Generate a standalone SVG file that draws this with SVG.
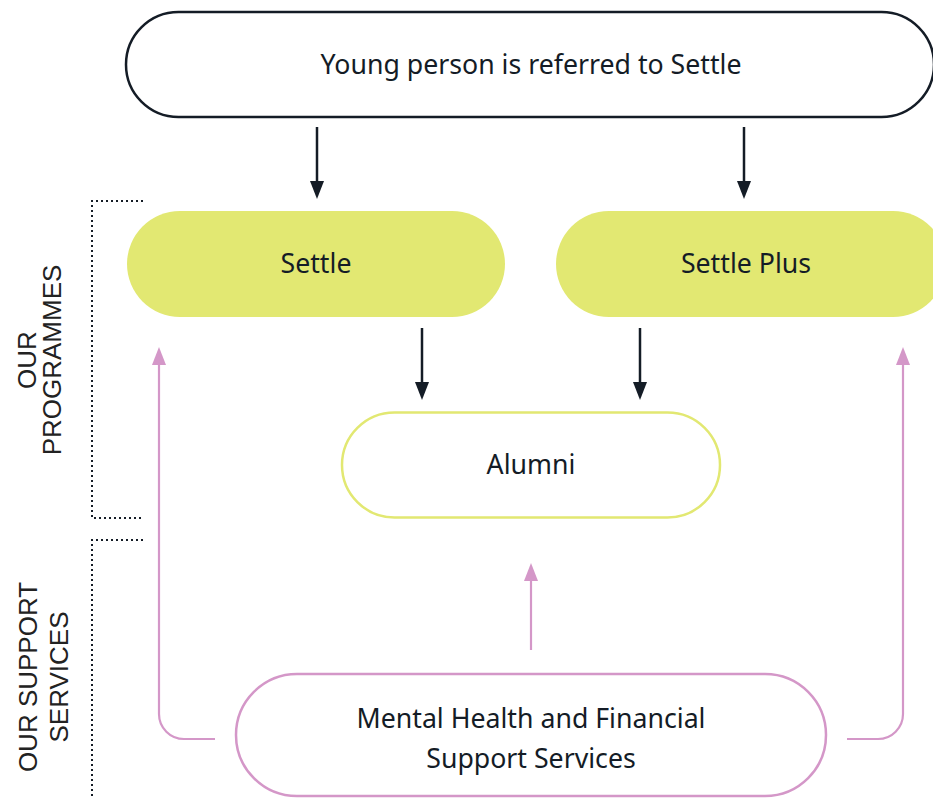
<svg xmlns="http://www.w3.org/2000/svg" width="933" height="798" viewBox="0 0 933 798">
  <defs>
    <marker id="ahDark" markerWidth="18" markerHeight="14" refX="0" refY="7" orient="auto" markerUnits="userSpaceOnUse" viewBox="0 0 18 14">
      <path d="M0,0 L18,7 L0,14 Z" fill="#141c26"/>
    </marker>
    <marker id="ahPink" markerWidth="18" markerHeight="14" refX="0" refY="7" orient="auto" markerUnits="userSpaceOnUse" viewBox="0 0 18 14">
      <path d="M0,0 L18,7 L0,14 Z" fill="#d497c8"/>
    </marker>
    <style>
      .lbl { font-family: "Noto Sans", "Liberation Sans", sans-serif; font-size: 26.7px; fill: #141c26; text-anchor: middle; }
      .side { font-family: "Liberation Sans", Arial, sans-serif; font-size: 26px; fill: #222222; text-anchor: middle; }
      .dark { stroke: #141c26; stroke-width: 2.5; fill: none; }
      .pink { stroke: #d497c8; stroke-width: 2.2; fill: none; }
      .dots { stroke: #141c26; stroke-width: 2; fill: none; stroke-dasharray: 2 3; }
    </style>
  </defs>
  <rect width="933" height="798" fill="#ffffff"/>

  <g id="brackets">
    <path class="dots" d="M143,201 H92 V518 H143"/>
    <path class="dots" d="M143,540 H92 V798"/>
  </g>
  <g id="side-labels">
    <text class="side" transform="translate(36,360) rotate(-90)">OUR</text>
    <text class="side" transform="translate(61,360) rotate(-90)">PROGRAMMES</text>
    <text class="side" transform="translate(37,677) rotate(-90)">OUR SUPPORT</text>
    <text class="side" transform="translate(68,677) rotate(-90)">SERVICES</text>
  </g>

  <g id="referred">
    <rect x="126" y="12" width="808" height="105" rx="52.5" fill="#ffffff" stroke="#141c26" stroke-width="2.5"/>
    <text class="lbl" x="531" y="74">Young person is referred to Settle</text>
  </g>
  <g id="settle">
    <rect x="127" y="211" width="378" height="106" rx="53" fill="#e2e872"/>
    <text class="lbl" x="316" y="273">Settle</text>
  </g>
  <g id="settle-plus">
    <rect x="556" y="211" width="390" height="106" rx="53" fill="#e2e872"/>
    <text class="lbl" x="746" y="273">Settle Plus</text>
  </g>
  <g id="alumni">
    <rect x="342" y="412.5" width="378" height="105" rx="52.5" fill="#ffffff" stroke="#e2e872" stroke-width="2.5"/>
    <text class="lbl" x="531" y="474">Alumni</text>
  </g>
  <g id="support">
    <rect x="236" y="674" width="590" height="122" rx="61" fill="#ffffff" stroke="#d497c8" stroke-width="2.5"/>
    <text class="lbl" x="531" y="728">Mental Health and Financial</text>
    <text class="lbl" x="531" y="768">Support Services</text>
  </g>

  <g id="connectors">
    <line class="dark" x1="317" y1="127" x2="317" y2="181" marker-end="url(#ahDark)"/>
    <line class="dark" x1="744" y1="127" x2="744" y2="181" marker-end="url(#ahDark)"/>
    <line class="dark" x1="422" y1="328" x2="422" y2="382" marker-end="url(#ahDark)"/>
    <line class="dark" x1="640" y1="328" x2="640" y2="382" marker-end="url(#ahDark)"/>
    <line class="pink" x1="531" y1="650" x2="531" y2="581" marker-end="url(#ahPink)"/>
    <path class="pink" d="M215,739 H184 A25,25 0 0 1 159,714 V365" marker-end="url(#ahPink)"/>
    <path class="pink" d="M847,739 H878 A25,25 0 0 0 903,714 V365" marker-end="url(#ahPink)"/>
  </g>
</svg>
